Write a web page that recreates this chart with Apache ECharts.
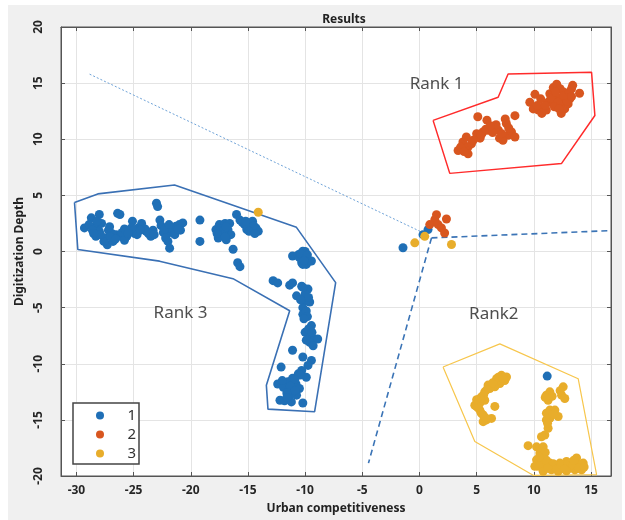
<!DOCTYPE html>
<html><head><meta charset="utf-8">
<script src="https://cdn.jsdelivr.net/npm/echarts@6/dist/echarts.min.js"></script>
<style>html,body{margin:0;padding:0;background:#fff}#c{width:625px;height:520px}</style>
</head><body><div id="c"></div>
<script>
// ---- tick labels ----
const xTicks = [-30, -25, -20, -15, -10, -5, 0, 5, 10, 15];
const yTicks = [-20, -15, -10, -5, 0, 5, 10, 15, 20];
const seriesNames = ['1', '2', '3'];

// ---- class 1 (blue) ----
const class1 = [
  [-29.3,2.1],[-28.7,3.0],[-28.0,3.3],[-28.4,2.2],[-28.0,1.8],[-28.3,1.35],[-27.5,1.2],[-27.3,0.6],[-26.8,0.9],
  [-26.4,3.4],[-26.2,3.3],[-26.5,1.5],[-26.1,1.35],[-25.6,1.35],[-25.4,1.8],[-25.1,2.7],[-25.2,2.1],[-24.6,2.1],
  [-24.3,2.5],[-23.9,1.8],[-23.5,1.35],[-23.0,4.3],[-22.9,4.0],[-22.7,2.8],[-22.1,1.5],[-21.85,2.1],[-21.6,1.95],
  [-21.3,2.25],[-21.0,2.4],[-20.7,2.55],[-22.0,0.9],[-21.85,0.3],[-19.2,2.8],[-19.2,0.9],
  [-27.8,2.5],[-27.2,1.9],[-26.9,1.6],[-24.9,1.6],[-24.0,2.0],[-23.3,1.9],[-22.4,1.7],[-21.4,1.5],[-20.9,1.9],
  [-28.9,2.4],[-25.8,1.0],[-27.6,0.9],
  [-28.6,1.9],[-28.2,2.7],[-27.9,1.5],[-27.0,1.3],[-26.6,1.1],[-26.0,1.7],[-25.8,2.0],[-25.0,1.9],[-24.7,1.5],
  [-24.4,1.9],[-23.7,1.6],[-23.2,1.5],[-22.6,2.3],[-22.3,2.0],[-21.9,2.4],[-21.1,2.0],[-22.2,1.2],[-27.1,2.2],
  [-28.5,1.6],[-25.5,1.6],
  [-17.8,1.95],[-17.5,2.4],[-17.0,2.5],[-16.75,1.95],[-17.2,1.5],[-17.6,1.2],[-16.9,1.05],[-16.6,2.5],[-16.3,0.2],
  [-16.0,3.3],[-15.7,2.8],[-15.3,2.4],[-14.85,2.5],[-14.6,2.7],[-14.3,2.1],[-14.1,1.8],[-14.7,1.95],[-15.1,1.95],
  [-15.9,-1.0],[-15.7,-1.35],[-17.3,1.8],[-16.5,1.5],
  [-17.4,2.0],[-17.1,1.9],[-16.9,2.2],[-17.7,1.6],[-17.0,1.3],[-15.5,2.6],[-15.0,2.2],[-14.5,2.3],[-14.9,1.8],
  [-14.4,1.6],[-15.2,2.7],
  [-11.1,-0.4],[-10.6,-0.3],[-10.0,0.0],[-9.9,-0.55],[-9.6,-0.85],[-10.3,-1.0],[-9.9,-1.15],[-10.2,0.03],[-10.5,-0.55],
  [-9.45,-0.85],[-10.2,-1.15],[-10.4,-0.2],[-9.8,-0.3],[-10.1,-0.8],
  [-12.8,-2.6],[-12.4,-2.8],[-11.35,-3.0],[-11.1,-2.8],[-10.3,-3.1],[-9.75,-3.35],[-10.75,-3.95],[-10.0,-3.8],
  [-10.2,-3.2],[-10.0,-4.4],[-9.6,-4.5],[-10.2,-5.0],[-10.2,-5.6],[-9.9,-5.3],[-9.45,-6.6],[-10.0,-7.2],[-9.6,-7.5],
  [-9.2,-7.8],[-8.9,-7.8],[-9.6,-8.1],[-9.3,-8.4],[-11.1,-8.8],[-10.2,-9.4],[-9.45,-9.7],[-12.1,-10.3],[-9.75,-10.15],
  [-10.3,-10.6],[-10.6,-10.9],[-11.1,-11.3],[-9.9,-11.2],[-12.4,-11.8],[-11.5,-11.6],[-10.8,-11.8],[-11.9,-12.1],
  [-10.5,-12.2],[-11.2,-12.5],[-12.2,-13.25],[-11.8,-13.3],[-11.2,-13.4],[-10.2,-13.5],[-11.35,-12.8],[-10.75,-12.8],
  [-9.7,-4.1],[-10.4,-4.3],[-9.8,-5.8],[-10.1,-6.0],[-9.7,-6.9],[-9.4,-7.2],[-9.9,-7.9],[-10.4,-11.0],[-10.9,-11.4],
  [-11.3,-12.0],[-10.9,-12.4],[-11.6,-12.6],[-12.0,-11.5],[-11.6,-13.0],
  [0.75,1.95],[0.31,1.5],[-1.44,0.33],
  [11.17,-11.1]
];

// ---- class 2 (orange) ----
const class2 = [
  [3.38,9.0],[3.8,9.75],[4.1,10.2],[4.25,9.3],[4.55,9.6],[4.25,8.7],[5.0,10.5],[5.1,12.0],[5.3,10.1],[5.55,10.65],
  [5.9,11.7],[6.0,10.8],[6.3,10.95],[6.6,11.1],[6.9,10.8],[7.0,10.1],[7.5,11.8],[7.6,11.4],[7.75,10.35],[8.05,10.65],
  [8.35,12.1],[8.35,10.2],[7.3,9.9],
  [3.6,9.3],[3.9,8.9],[4.7,9.9],[5.4,10.4],[5.8,10.9],[6.4,10.6],[6.7,11.3],[7.2,10.5],[7.8,11.0],[6.2,11.2],
  [9.65,13.3],[10.1,14.0],[9.95,12.7],[10.4,12.6],[10.7,12.3],[10.8,12.85],[11.25,13.3],[11.4,14.05],[11.7,14.6],
  [12.0,14.9],[12.3,14.5],[12.0,13.75],[12.4,13.45],[12.3,13.0],[12.7,12.7],[12.4,12.3],[12.85,14.05],[13.15,13.6],
  [13.3,14.5],[13.4,14.8],[14.0,14.1],[13.0,13.15],[11.7,13.15],[11.1,12.6],
  [10.3,13.0],[10.6,13.6],[11.0,13.0],[11.5,13.7],[11.9,14.2],[12.1,13.3],[12.6,14.2],[12.9,13.4],[12.6,13.9],
  [13.1,14.2],[11.8,12.9],[12.2,12.7],[13.3,13.8],
  [1.49,3.27],[1.34,2.83],[2.36,2.9],[0.9,2.4],[1.63,2.4],[1.92,2.1],[2.2,1.65]
];

// ---- class 3 (yellow) ----
const class3 = [
  [-14.1,3.5],
  [0.46,1.35],[-0.41,0.77],[2.8,0.62],
  [7.61,-11.18],[7.17,-11.03],[6.74,-11.33],[7.03,-11.77],[6.59,-12.06],[6.15,-12.2],[5.71,-12.5],[5.42,-12.95],
  [5.13,-13.4],[4.99,-13.8],[5.28,-14.13],[5.57,-14.57],[5.86,-15.0],[5.57,-15.16],[6.30,-14.87],[6.59,-13.8],
  [5.28,-13.5],[5.71,-13.25],[6.0,-11.9],[7.03,-11.5],[7.46,-11.5],[4.84,-13.7],
  [6.4,-11.7],[5.9,-12.3],[5.6,-12.8],[5.3,-13.1],[5.1,-13.9],[5.4,-14.4],[5.75,-14.8],[6.9,-11.2],[7.3,-11.3],[5.0,-13.2],
  [12.57,-12.06],[12.43,-12.8],[12.71,-13.1],[11.1,-12.8],[11.4,-12.5],[11.25,-13.25],[11.4,-14.13],[11.84,-14.13],
  [12.13,-14.7],[11.1,-15.0],[11.4,-14.87],[11.25,-15.75],[10.96,-16.35],[10.67,-16.5],[9.5,-17.3],[10.24,-17.4],
  [10.82,-17.4],[10.53,-17.96],[10.82,-18.4],[10.24,-18.56],[10.38,-19.14],[10.96,-19.14],[11.4,-18.85],[11.84,-19.14],
  [12.28,-18.85],[12.57,-19.14],[12.86,-18.7],[13.15,-19.3],[13.74,-18.4],[13.88,-19.0],[14.32,-18.85],[14.18,-19.44],
  [13.59,-19.44],[11.54,-19.44],[10.82,-19.58],[12.13,-19.58],[12.86,-19.53],[10.09,-19.14],[11.1,-14.4],
  [11.6,-12.9],[12.3,-12.4],[11.0,-13.0],[11.7,-14.5],[11.2,-15.3],[11.0,-17.9],[10.6,-18.9],[11.1,-18.6],[11.7,-18.9],
  [12.0,-19.4],[12.4,-19.0],[13.0,-18.9],[13.4,-19.0],[13.9,-19.3],[14.4,-19.2],[10.5,-18.3],[11.2,-19.3],[12.7,-19.4],
  [13.5,-18.6]
];

// ---- boundary outlines ----
const rank1Hull = [[1.19,11.68],[6.88,13.74],[7.75,15.81],[15.05,15.96],[15.34,12.12],[12.43,7.85],[2.65,6.96],[1.19,11.68]];
const rank2Hull = [[2.06,-10.29],[7.03,-8.23],[13.88,-11.33],[15.49,-19.88],[9.94,-19.94],[4.84,-16.93],[2.06,-10.29]];
const rank3Hull = [[-30.17,4.36],[-28.13,5.13],[-21.42,5.93],[-10.76,2.15],[-7.33,-2.77],[-9.17,-14.27],[-13.25,-14.04],
  [-13.39,-11.92],[-11.35,-5.28],[-16.31,-2.42],[-22.73,-0.86],[-29.88,0.18],[-30.17,4.36]];

// ---- divider lines ----
const dottedLine = [[-28.85,15.8],[0.46,1.6]];
const dashedRight = [[1.05,1.21],[16.74,1.86]];
const dashedDown = [[1.05,1.21],[-4.46,-18.85]];

// ---- region labels ----
const rankNames = ['Rank 1', 'Rank 3', 'Rank2'];
const rankAt = [[1.5,14.9],[-20.9,-5.5],[6.5,-5.6]];

const colors = ['#1f6fb6', '#d8561f', '#e8ad2b'];
const fontFam = '"Noto Sans", "Open Sans", sans-serif';
const xMin = -31.35, xMax = 16.75;

const chart = echarts.init(document.getElementById('c'), null, {renderer: 'canvas'});

function lineSeries(data, color, width, type) {
  return {type: 'line', data: data, xAxisIndex: 0, yAxisIndex: 0, symbol: 'none', silent: true,
    lineStyle: {color: color, width: width, type: type}, z: 1, animation: false};
}
const axisLineStyle = {show: true, onZero: false, lineStyle: {color: '#555'}};

const option = {
  animation: false,
  backgroundColor: 'transparent',
  graphic: [{type: 'rect', left: 8, top: 5, shape: {width: 614, height: 515}, style: {fill: '#f0f0f0'}, z: -100, silent: true}],
  title: {text: 'Results', left: 339, top: 9, textAlign: 'center',
    textStyle: {fontSize: 12, fontWeight: 'bold', color: '#222', fontFamily: fontFam}},
  grid: {left: 61, right: 14, top: 27, bottom: 42, show: true, backgroundColor: '#fff', borderColor: '#555', borderWidth: 1},
  legend: {
    data: seriesNames, orient: 'vertical', left: 73, top: 403, width: 67,
    padding: [5, 3, 3, 23], itemGap: 4, itemWidth: 8, itemHeight: 8, icon: 'circle',
    borderColor: '#444', borderWidth: 1.5, backgroundColor: '#fff',
    formatter: '{a|{name}}',
    textStyle: {fontSize: 15, color: '#333', fontFamily: fontFam, lineHeight: 14,
      rich: {a: {width: 27, align: 'right', fontSize: 15, color: '#333', fontFamily: fontFam, lineHeight: 14}}}
  },
  xAxis: [
    {type: 'value', min: xMin, max: xMax, position: 'bottom',
      name: 'Urban competitiveness', nameLocation: 'middle', nameGap: 27,
      nameTextStyle: {fontSize: 12, fontWeight: 'bold', color: '#222', fontFamily: fontFam},
      axisLine: axisLineStyle,
      axisTick: {show: true, inside: true, length: 4, customValues: xTicks, lineStyle: {color: '#555'}},
      axisLabel: {show: true, customValues: xTicks, margin: 9, fontSize: 12, fontWeight: 'bold', color: '#262626', fontFamily: fontFam},
      splitLine: {show: true, lineStyle: {color: '#e4e4e4', width: 1}}},
    {type: 'value', min: xMin, max: xMax, position: 'top',
      axisLine: axisLineStyle,
      axisTick: {show: true, inside: true, length: 4, customValues: xTicks, lineStyle: {color: '#555'}},
      axisLabel: {show: false}, splitLine: {show: false}}
  ],
  yAxis: [
    {type: 'value', min: -20, max: 20, interval: 5, position: 'left',
      name: 'Digitization Depth', nameLocation: 'middle', nameGap: 32,
      nameTextStyle: {fontSize: 12, fontWeight: 'bold', color: '#222', fontFamily: fontFam},
      axisLine: axisLineStyle,
      axisTick: {show: true, inside: true, length: 4, lineStyle: {color: '#555'}},
      axisLabel: {show: true, rotate: 90, margin: 16, fontSize: 12, fontWeight: 'bold', color: '#262626', fontFamily: fontFam},
      splitLine: {show: true, lineStyle: {color: '#e4e4e4', width: 1}}},
    {type: 'value', min: -20, max: 20, interval: 5, position: 'right',
      axisLine: axisLineStyle,
      axisTick: {show: true, inside: true, length: 4, lineStyle: {color: '#555'}},
      axisLabel: {show: false}, splitLine: {show: false}}
  ],
  series: [
    lineSeries(dottedLine, '#6fa3d8', 1, [2, 2]),
    lineSeries(dashedRight, '#3b74b6', 1.6, [6, 4]),
    lineSeries(dashedDown, '#3b74b6', 1.6, [6, 4]),
    lineSeries(rank3Hull, '#3a70b4', 1.6, 'solid'),
    lineSeries(rank1Hull, '#ff2b2b', 1.5, 'solid'),
    lineSeries(rank2Hull, '#f7c64c', 1.2, 'solid'),
    {type: 'scatter', name: '1', data: class1, symbolSize: 9, itemStyle: {color: colors[0], opacity: 1}, z: 3},
    {type: 'scatter', name: '2', data: class2, symbolSize: 9, itemStyle: {color: colors[1], opacity: 1}, z: 3},
    {type: 'scatter', name: '3', data: class3, symbolSize: 9, itemStyle: {color: colors[2], opacity: 1}, z: 3},
    {type: 'scatter', silent: true, symbolSize: 0, z: 4,
      data: rankNames.map((n, i) => ({name: n, value: rankAt[i]})),
      label: {show: true, position: 'inside', formatter: '{b}', fontSize: 17, color: '#222', fontFamily: fontFam}}
  ]
};
chart.setOption(option);
</script>
</body></html>
